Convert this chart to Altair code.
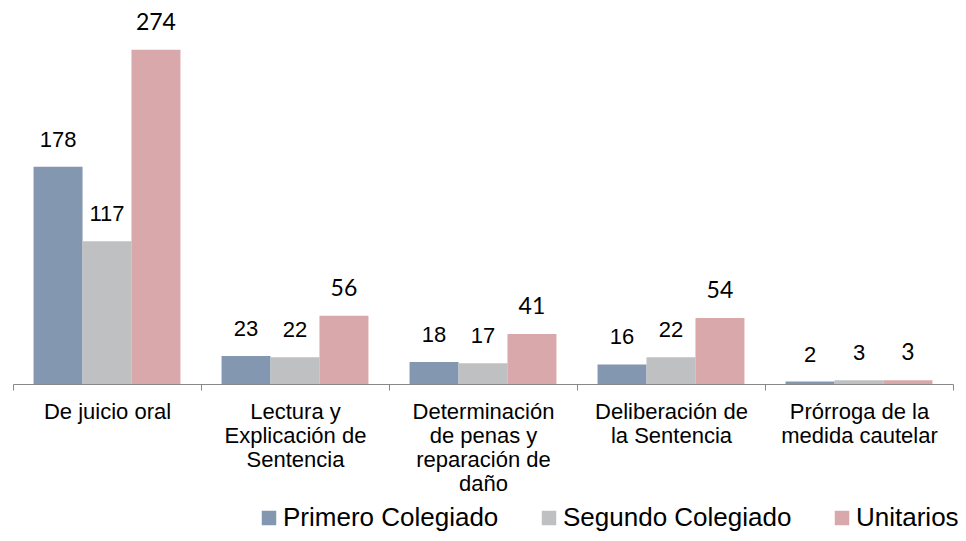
import altair as alt
import pandas as pd

categories = ["De juicio oral", "Lectura y\nExplicación de\nSentencia",
              "Determinación\nde penas y\nreparación de\ndaño",
              "Deliberación de\nla Sentencia", "Prórroga de la\nmedida cautelar"]
series = ["Primero Colegiado", "Segundo Colegiado", "Unitarios"]
primero = [178, 23, 18, 16, 2]
segundo = [117, 22, 17, 22, 3]
unitarios = [274, 56, 41, 54, 3]
colors = ["#8497B0", "#BFC0C2", "#D9A8AA"]

rows = []
for vals, s in zip([primero, segundo, unitarios], series):
    for c, v in zip(categories, vals):
        rows.append({"cat": c, "serie": s, "value": v})
df = pd.DataFrame(rows)

x = alt.X("cat:N", sort=categories, title=None,
          scale=alt.Scale(paddingInner=0, paddingOuter=0),
          axis=alt.Axis(labelAngle=0, labelExpr="split(datum.label, '\\n')",
                        tickBand="extent", labelFont="Liberation Sans",
                        labelFontSize=22, labelLineHeight=24, labelColor="#000",
                        labelPadding=11, tickSize=6, tickColor="#888", domainColor="#888",
                        labelBaseline="top", labelLimit=0))
xo = alt.XOffset("serie:N", sort=series, scale=alt.Scale(paddingInner=0, paddingOuter=0.42))
y = alt.Y("value:Q", scale=alt.Scale(domain=[0, 300], nice=False), axis=None)

bars = alt.Chart(df).mark_bar(size=49).encode(
    x=x, xOffset=xo, y=y,
    color=alt.Color("serie:N", sort=series,
                    scale=alt.Scale(domain=series, range=colors),
                    legend=alt.Legend(title=None, orient="none", direction="horizontal",
                                      legendX=243, legendY=487, symbolType="square",
                                      symbolSize=210, symbolStrokeWidth=0,
                                      labelFont="Liberation Sans", labelFontSize=26,
                                      labelColor="#000", columnPadding=37, labelLimit=0,
                                      symbolOffset=0, labelOffset=1)),
)

lab_common = alt.Chart(df).encode(x=x, xOffset=xo, y=y, text="value:Q")
lab1 = lab_common.transform_filter(alt.datum.serie != "Unitarios").mark_text(
    baseline="bottom", dy=-15, font="Liberation Sans", fontSize=22, color="#000")
lab2 = lab_common.transform_filter(alt.datum.serie == "Unitarios").mark_text(
    baseline="bottom", dy=-15, font="Lato", fontSize=23, color="#000")

chart = alt.layer(bars, lab1, lab2).properties(
    width=940, height=366,
    autosize=alt.AutoSizeParams(type="none"),
    padding={"left": 5, "top": 10, "right": 5, "bottom": 149},
).configure_view(stroke=None)

chart.save("out.html", embed_options={"renderer": "svg", "actions": False})
